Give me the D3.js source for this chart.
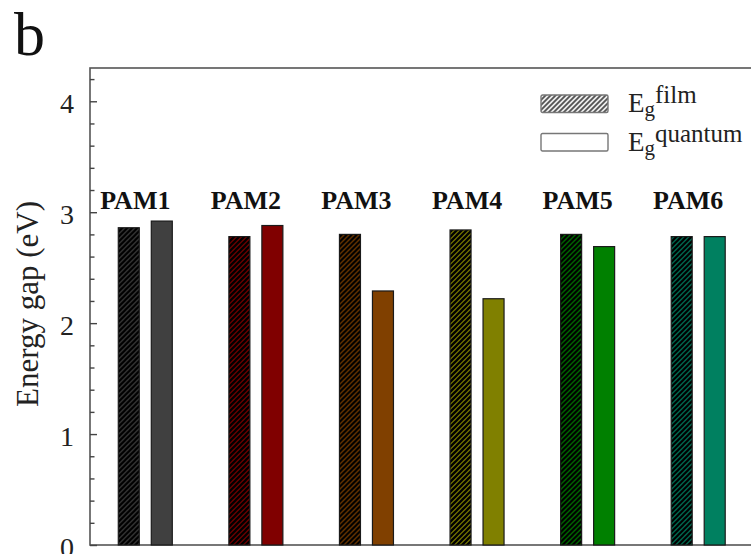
<!DOCTYPE html>
<html>
<head>
<meta charset="utf-8">
<script src="https://cdn.jsdelivr.net/npm/d3@7"></script>
<style>
    html, body { margin: 0; padding: 0; background: #fff; }
    svg { display: block; font-family: "Liberation Serif", "Times New Roman", serif; }
</style>
</head>
<body>
<svg id="chart" width="751" height="554"></svg>
<script>
// band gaps (eV)
var samples = ['PAM1', 'PAM2', 'PAM3', 'PAM4', 'PAM5', 'PAM6'];
var filmGap = [2.86, 2.78, 2.80, 2.84, 2.80, 2.78];
var quantumGap = [2.92, 2.88, 2.29, 2.22, 2.69, 2.78];
var yTicks = [0, 1, 2, 3, 4];
var labelLevel = 3.03;

var barColors = ['#404040', '#800000', '#804000', '#808000', '#008000', '#008060'];

var svg = d3.select('#chart');
var plotLeft = 90, plotRight = 753.5, plotTop = 68, plotBottom = 545;

var x = d3.scaleBand().domain(samples).range([plotLeft, plotRight]).padding(0);
var sub = d3.scaleBand().domain(['film', 'quantum']).range([-27, 27]).paddingInner(12 / 33);
var y = d3.scaleLinear().domain([0, 4.3]).range([plotBottom, plotTop]);

// hatch patterns, one per colour
var defs = svg.append('defs');
function addHatch(id, bg, line, w) {
    var s = 5;
    var p = defs.append('pattern')
        .attr('id', id)
        .attr('patternUnits', 'userSpaceOnUse')
        .attr('width', s)
        .attr('height', s);
    p.append('rect').attr('width', s).attr('height', s).attr('fill', bg);
    p.append('path')
        .attr('d', 'M-1,1 l2,-2 M0,' + s + ' l' + s + ',-' + s + ' M' + (s - 1) + ',' + (s + 1) + ' l2,-2')
        .attr('stroke', line)
        .attr('stroke-width', w);
}
barColors.forEach(function(c, i) { addHatch('hatch' + i, c, '#000', 2.3); });
addHatch('hatchLegend', '#eee', '#555', 1.8);

// frame
svg.append('rect')
    .attr('x', plotLeft).attr('y', plotTop)
    .attr('width', plotRight - plotLeft).attr('height', plotBottom - plotTop)
    .attr('fill', 'none')
    .attr('stroke', '#555')
    .attr('stroke-width', 1.6);

// y axis, ticks inward
var yAxis = d3.axisRight(y).tickValues(yTicks).tickSize(7).tickFormat('');
var yMinor = d3.axisRight(y).tickValues(d3.range(0, 4.3, 0.2).filter(function(v) {
    return Math.abs(v - Math.round(v)) > 1e-6;
})).tickSize(4.5).tickFormat('');

[yAxis, yMinor].forEach(function(ax) {
    var g = svg.append('g').attr('transform', 'translate(' + plotLeft + ',0)').call(ax);
    g.select('.domain').remove();
    g.selectAll('line').attr('stroke', '#444').attr('stroke-width', 1.4);
});

svg.append('g').selectAll('text')
    .data(yTicks)
    .enter().append('text')
    .attr('x', plotLeft - 16)
    .attr('y', function(d) { return y(d); })
    .attr('dy', '0.42em')
    .attr('text-anchor', 'end')
    .attr('font-size', 28)
    .attr('fill', '#222')
    .text(function(d) { return d; });

// bars
var groups = svg.append('g').selectAll('g')
    .data(samples)
    .enter().append('g')
    .attr('transform', function(d) { return 'translate(' + (x(d) + x.bandwidth() / 2) + ',0)'; });

groups.append('rect')
    .attr('x', sub('film'))
    .attr('width', sub.bandwidth())
    .attr('y', function(d, i) { return y(filmGap[i]); })
    .attr('height', function(d, i) { return y(0) - y(filmGap[i]); })
    .attr('fill', function(d, i) { return 'url(#hatch' + i + ')'; })
    .attr('stroke', '#1a1a1a')
    .attr('stroke-width', 1.2);

groups.append('rect')
    .attr('x', sub('quantum'))
    .attr('width', sub.bandwidth())
    .attr('y', function(d, i) { return y(quantumGap[i]); })
    .attr('height', function(d, i) { return y(0) - y(quantumGap[i]); })
    .attr('fill', function(d, i) { return barColors[i]; })
    .attr('stroke', '#1a1a1a')
    .attr('stroke-width', 1.2);

groups.append('text')
    .attr('x', -10)
    .attr('y', y(labelLevel))
    .attr('text-anchor', 'middle')
    .attr('font-size', 26)
    .attr('font-weight', 'bold')
    .attr('fill', '#111')
    .text(function(d) { return d; });

// axis title
svg.append('text')
    .attr('transform', 'translate(38,304) rotate(-90)')
    .attr('text-anchor', 'middle')
    .attr('font-size', 31)
    .attr('fill', '#222')
    .text('Energy gap (eV)');

// panel letter
svg.append('text')
    .attr('x', 14)
    .attr('y', 55)
    .attr('font-size', 62)
    .attr('fill', '#111')
    .text('b');

// legend
var legendItems = [
    { fill: 'url(#hatchLegend)', sup: 'film' },
    { fill: '#fff', sup: 'quantum' }
];
var legend = svg.append('g').selectAll('g')
    .data(legendItems)
    .enter().append('g')
    .attr('transform', function(d, i) { return 'translate(541,' + (95 + i * 38.5) + ')'; });

legend.append('rect')
    .attr('width', 67)
    .attr('height', 17.5)
    .attr('rx', 1.5)
    .attr('fill', function(d) { return d.fill; })
    .attr('stroke', '#777')
    .attr('stroke-width', 1.4);

var lt = legend.append('text')
    .attr('x', 87)
    .attr('y', 17)
    .attr('font-size', 27)
    .attr('fill', '#222');
lt.append('tspan').text('E');
lt.append('tspan').attr('font-size', 21).attr('dy', 4).text('g');
lt.append('tspan').attr('font-size', 25).attr('dy', -13).text(function(d) { return d.sup; });
</script>
</body>
</html>
